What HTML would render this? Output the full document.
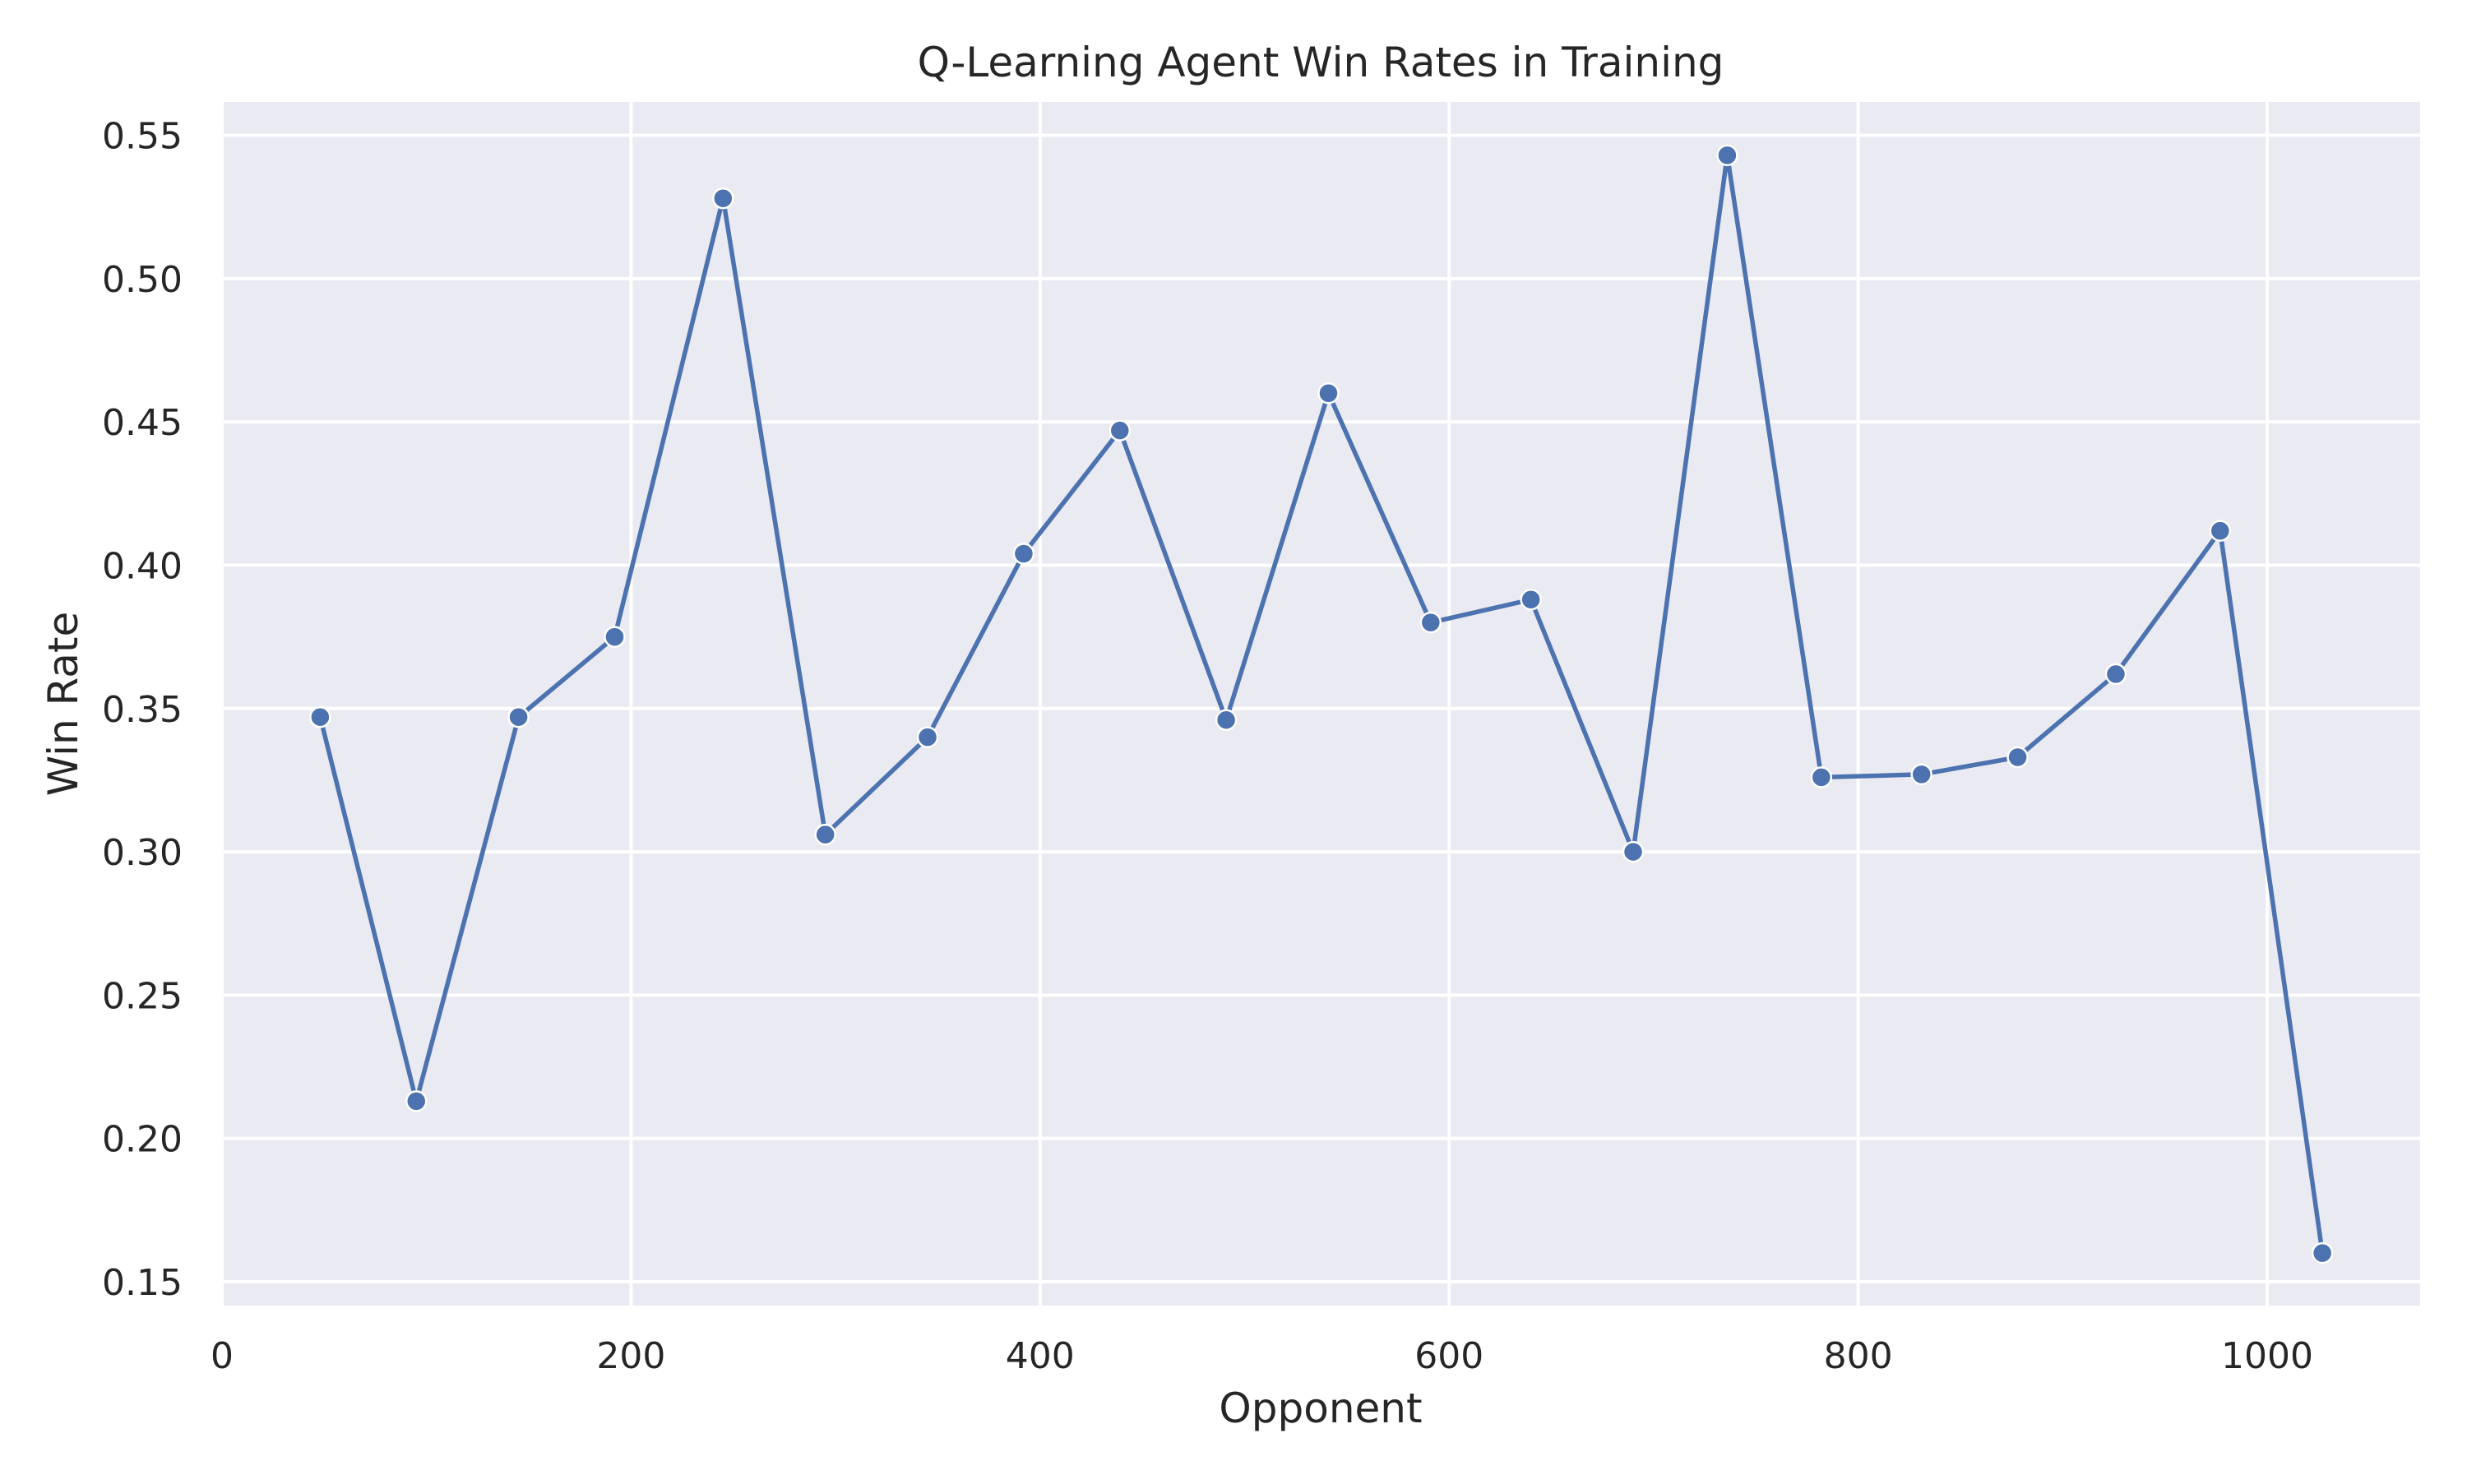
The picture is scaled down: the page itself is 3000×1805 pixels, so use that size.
<!DOCTYPE html>
<html><head><meta charset="utf-8"><style>
html,body{margin:0;padding:0;background:#fff;}
svg text{font-family:"DejaVu Sans","Liberation Sans",sans-serif;fill:#262626;}
</style></head><body>
<svg id="chart" width="3000" height="1800" xmlns="http://www.w3.org/2000/svg">
<rect x="0" y="0" width="3000" height="1800" fill="#fff"/>
<rect id="plotbg" x="270" y="124" width="2673" height="1464" fill="#eaeaf2"/>
<g id="grid"></g><g id="ticks"></g><g id="series"></g>
<text x="1606" y="93" text-anchor="middle" font-size="50">Q-Learning Agent Win Rates in Training</text>
<text x="1606" y="1730" text-anchor="middle" font-size="50">Opponent</text>
<text x="0" y="0" transform="translate(94,856) rotate(-90)" text-anchor="middle" font-size="50">Win Rate</text>
</svg>
<script>
const xTicks=[0,200,400,600,800,1000];
const yTicks=[0.15,0.20,0.25,0.30,0.35,0.40,0.45,0.50,0.55];
const opponents=[48,95,145,192,245,295,345,392,439,491,541,591,640,690,736,782,831,878,926,977,1027];
const winRates=[0.347,0.213,0.347,0.375,0.528,0.306,0.340,0.404,0.447,0.346,0.460,0.380,0.388,0.300,0.543,0.326,0.327,0.333,0.362,0.412,0.160];
const NS="http://www.w3.org/2000/svg";
const L=270,R=2943,T=124,B=1588;
function sx(v){return 270+v*(2757-270)/1000;}
function sy(v){return 1559-(v-0.15)*(1559-164.5)/0.40;}
function mk(tag,attrs,parent){const e=document.createElementNS(NS,tag);for(const k in attrs)e.setAttribute(k,attrs[k]);parent.appendChild(e);return e;}
const grid=document.getElementById('grid'),ticks=document.getElementById('ticks'),series=document.getElementById('series');
xTicks.forEach(v=>{
  const l=mk('line',{x1:sx(v),x2:sx(v),y1:T,y2:B,stroke:'#fff','stroke-width':4},grid);
  
  
  const t=mk('text',{x:sx(v),y:1664,'text-anchor':'middle','font-size':44},ticks);
  t.textContent=v;
  
  
});
yTicks.forEach(v=>{
  const l=mk('line',{x1:L,x2:R,y1:sy(v),y2:sy(v),stroke:'#fff','stroke-width':4},grid);
  
  
  const t=mk('text',{x:222,y:sy(v)+16,'text-anchor':'end','font-size':44},ticks);
  t.textContent=v.toFixed(2);
  
  
});
const pts=opponents.map((x,i)=>sx(x)+','+sy(winRates[i])).join(' ');
const line=mk('polyline',{points:pts,fill:'none',stroke:'#4c72b0','stroke-width':5.5,'stroke-linejoin':'round'},series);


opponents.forEach((x,i)=>{
  const c=mk('circle',{cx:sx(x),cy:sy(winRates[i]),r:12,fill:'#4c72b0',stroke:'#fff','stroke-width':2.5},series);
  
  
});
</script>
</body></html>
